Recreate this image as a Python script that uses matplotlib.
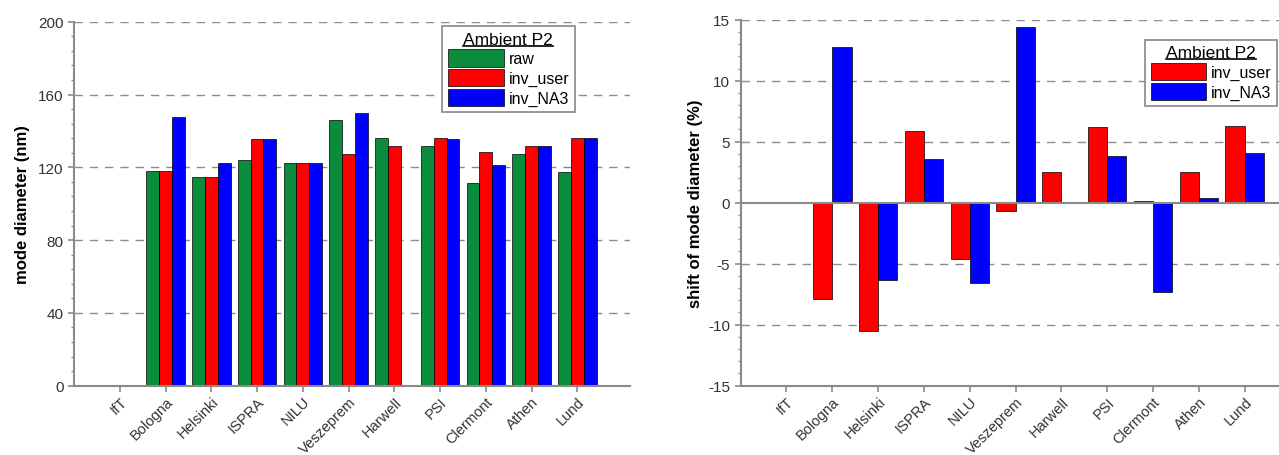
import numpy as np
import matplotlib
matplotlib.use("Agg")
import matplotlib.pyplot as plt
from matplotlib.patches import Patch
from matplotlib.lines import Line2D
from matplotlib.ticker import MultipleLocator

plt.rcParams["font.family"] = ["Liberation Sans", "DejaVu Sans"]
plt.rcParams["axes.unicode_minus"] = False

sites = ["IfT", "Bologna", "Helsinki", "ISPRA", "NILU", "Veszeprem",
         "Harwell", "PSI", "Clermont", "Athen", "Lund"]

# mode diameter (nm)
raw = [np.nan, 118.1, 114.8, 123.8, 122.5, 146.2, 136.1, 131.5, 111.4, 127.5, 117.4]
inv_user = [np.nan, 118.0, 114.8, 135.5, 122.5, 127.1, 131.5, 136.1, 128.6, 131.5, 136.3]
inv_na3 = [np.nan, 147.8, 122.5, 135.5, 122.5, 149.6, np.nan, 135.5, 121.4, 131.5, 136.3]

# shift of mode diameter (%)
shift_user = [np.nan, -7.9, -10.5, 5.9, -4.6, -0.7, 2.5, 6.2, 0.16, 2.5, 6.3]
shift_na3 = [np.nan, 12.8, -6.3, 3.6, -6.6, 14.4, np.nan, 3.8, -7.35, 0.36, 4.1]

GREEN = "#0b8c3c"
RED = "#ff0000"
BLUE = "#0000ff"
AXCOL = "#8a8a8a"
GRIDCOL = "#8c8c8c"

fig = plt.figure(figsize=(12.79, 4.56), dpi=100)
ax1 = fig.add_axes([0.0579, 0.152, 0.4347, 0.798])
ax2 = fig.add_axes([0.5791, 0.152, 0.4209, 0.8026])

x = np.arange(len(sites))


def style_axes(ax):
    for s in ["top", "right"]:
        ax.spines[s].set_visible(False)
    for s in ["left", "bottom"]:
        ax.spines[s].set_color(AXCOL)
        ax.spines[s].set_linewidth(1.5)
    ax.tick_params(axis="both", which="major", color=AXCOL, width=1.2,
                   length=4, labelsize=11, labelcolor="#333333", direction="out")
    ax.tick_params(axis="x", which="major", labelsize=10.5, pad=2)
    ax.tick_params(axis="y", which="minor", color=AXCOL, width=1.0, length=2.5,
                   direction="out")
    ax.tick_params(axis="x", which="minor", bottom=False)
    ax.set_xticks(x)
    ax.set_xticklabels(sites, rotation=45, ha="right", rotation_mode="anchor")
    ax.set_axisbelow(True)


def legend_box(ax, handles, bbox):
    leg = ax.legend(handles=handles, loc="upper left", bbox_to_anchor=bbox,
                    title="Ambient P2", fontsize=11.5, title_fontsize=12.5,
                    frameon=True, fancybox=False, edgecolor="#888888",
                    framealpha=1, handlelength=3.5, handleheight=1.3,
                    handletextpad=0.3, labelspacing=0.15, borderpad=0.35,
                    borderaxespad=0)
    leg.get_frame().set_linewidth(1.2)
    return leg


# left panel: mode diameter
w = 0.28
ax1.bar(x - w, raw, w, color=GREEN, edgecolor="black", linewidth=0.5)
ax1.bar(x, inv_user, w, color=RED, edgecolor="black", linewidth=0.5)
ax1.bar(x + w, inv_na3, w, color=BLUE, edgecolor="black", linewidth=0.5)
ax1.set_xlim(-1.0, 11.15)
ax1.set_ylim(0, 200)
ax1.set_yticks([0, 40, 80, 120, 160, 200])
ax1.yaxis.set_minor_locator(MultipleLocator(8))
for yv in [40, 80, 120, 160, 200]:
    ax1.axhline(yv, color=GRIDCOL, linestyle=(0, (6, 5)), linewidth=1.0, zorder=0)
style_axes(ax1)
ax1.set_ylabel("mode diameter (nm)", fontsize=12, fontweight="bold", labelpad=6)
leg1 = legend_box(ax1, [Patch(facecolor=GREEN, edgecolor="black", linewidth=0.5, label="raw"),
                        Patch(facecolor=RED, edgecolor="black", linewidth=0.5, label="inv_user"),
                        Patch(facecolor=BLUE, edgecolor="black", linewidth=0.5, label="inv_NA3")],
                  (0.662, 0.988))

# right panel: relative shift
w2 = 0.42
ax2.bar(x - w2 / 2, shift_user, w2, color=RED, edgecolor="black", linewidth=0.5)
ax2.bar(x + w2 / 2, shift_na3, w2, color=BLUE, edgecolor="black", linewidth=0.5)
ax2.set_xlim(-1.0, 10.75)
ax2.set_ylim(-15, 15)
ax2.set_yticks([-15, -10, -5, 0, 5, 10, 15])
ax2.yaxis.set_minor_locator(MultipleLocator(1))
for yv in [-10, -5, 5, 10, 15]:
    ax2.axhline(yv, color=GRIDCOL, linestyle=(0, (6, 5)), linewidth=1.0, zorder=0)
ax2.axhline(0, color=AXCOL, linewidth=1.5, zorder=3)
style_axes(ax2)
ax2.set_ylabel("shift of mode diameter (%)", fontsize=12, fontweight="bold", labelpad=4)
leg2 = legend_box(ax2, [Patch(facecolor=RED, edgecolor="black", linewidth=0.5, label="inv_user"),
                        Patch(facecolor=BLUE, edgecolor="black", linewidth=0.5, label="inv_NA3")],
                  (0.751, 0.945))

# underline the legend titles
fig.canvas.draw()
renderer = fig.canvas.get_renderer()
inv = fig.transFigure.inverted()
for leg in (leg1, leg2):
    bb = leg.get_title().get_window_extent(renderer)
    (x0, y0), (x1, _) = inv.transform([[bb.x0, bb.y0 + 1], [bb.x1, bb.y0 + 1]])
    fig.add_artist(Line2D([x0, x1], [y0, y0], transform=fig.transFigure,
                          color="black", linewidth=1.2))

fig.savefig("out.png", dpi=100)
